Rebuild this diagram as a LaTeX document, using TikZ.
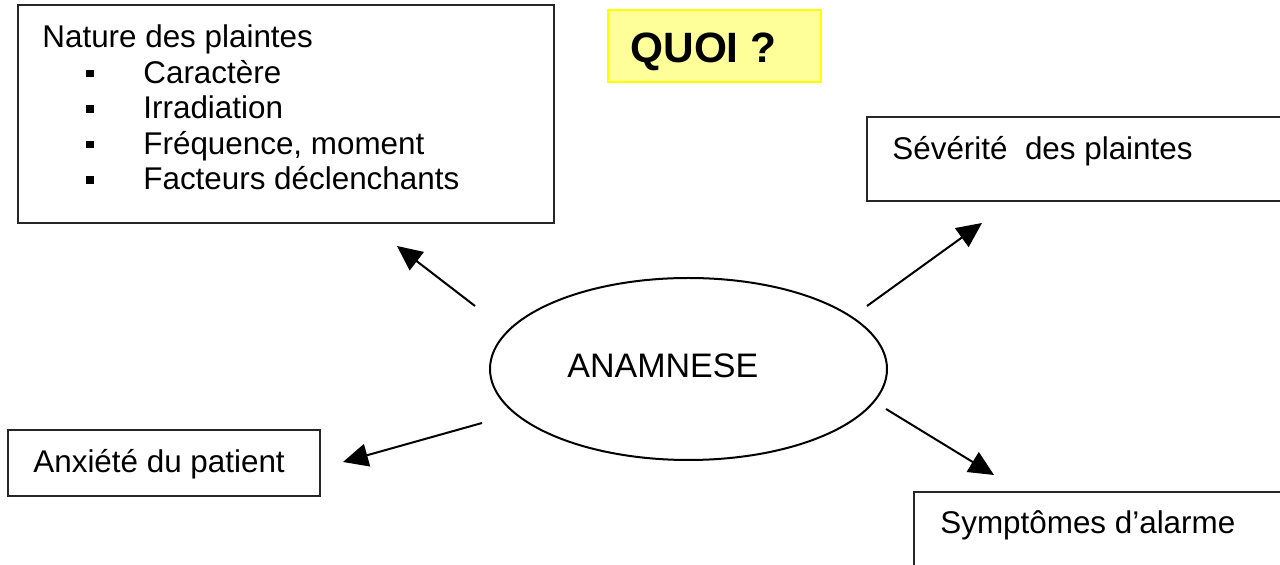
\documentclass[tikz,border=0pt]{standalone}
\usepackage{fontspec}
\setmainfont{Liberation Sans}
\usetikzlibrary{arrows.meta,shapes.geometric}
\definecolor{quoifill}{HTML}{FFFF99}
\definecolor{quoiline}{HTML}{FFFF00}
\begin{document}
\begin{tikzpicture}[x=0.5pt,y=-0.5pt,
  box/.style={draw=black!85,line width=0.75pt},
  txt/.style={anchor=base west,inner sep=0pt,font=\fontsize{15.7}{18}\selectfont},
  bul/.style={fill=black,minimum size=3.9pt,inner sep=0pt},
  arr/.style={-{Triangle[length=12.5pt,width=11.5pt]},line width=1pt}]
\useasboundingbox (0,0) rectangle (1280,565);
% boxes
\draw[box] (18,5) rectangle (554,223);
\draw[box] (867,117) rectangle (1300,201);
\draw[box] (8,430) rectangle (320,496);
\draw[box] (914,492) rectangle (1300,600);
\draw[fill=quoifill,draw=quoiline,line width=0.9pt] (608,10) rectangle (821,82);
% texts
\node[txt,font=\fontsize{21.2}{24}\selectfont\bfseries] (quoi) at (630,63) {QUOI ?};
\node[txt] (nature) at (42,48) {Nature des plaintes};
\node[txt] (i1) at (143,83.5) {Caractère};
\node[txt] (i2) at (143,119) {Irradiation};
\node[txt] (i3) at (143,154.5) {Fréquence, moment};
\node[txt] (i4) at (143,190) {Facteurs déclenchants};
\node[bul] (b1) at (90,73.5) {};
\node[bul] (b2) at (90,109) {};
\node[bul] (b3) at (90,144.5) {};
\node[bul] (b4) at (90,180) {};
\node[txt] (sev) at (892,159.5) {Sévérité\ \ des plaintes};
\node[txt] (anx) at (33,473) {Anxiété du patient};
\node[txt] (sym) at (940,534) {Symptômes d’alarme};
% ellipse
\node[ellipse,draw,line width=1pt,minimum width=198.5pt,minimum height=91pt,inner sep=0pt] (ana) at (688.5,369) {};
\node[txt,font=\fontsize{17}{20}\selectfont] (anatxt) at (567,377.5) {ANAMNESE};
% arrow ends
\coordinate (s1) at (475,306); \coordinate (t1) at (397,246);
\coordinate (s2) at (867,306); \coordinate (t2) at (982,223);
\coordinate (s3) at (482,423); \coordinate (t3) at (343,462);
\coordinate (s4) at (886,409); \coordinate (t4) at (994,475);
\draw[arr] (s1) -- (t1);
\draw[arr] (s2) -- (t2);
\draw[arr] (s3) -- (t3);
\draw[arr] (s4) -- (t4);
\end{tikzpicture}
\end{document}
